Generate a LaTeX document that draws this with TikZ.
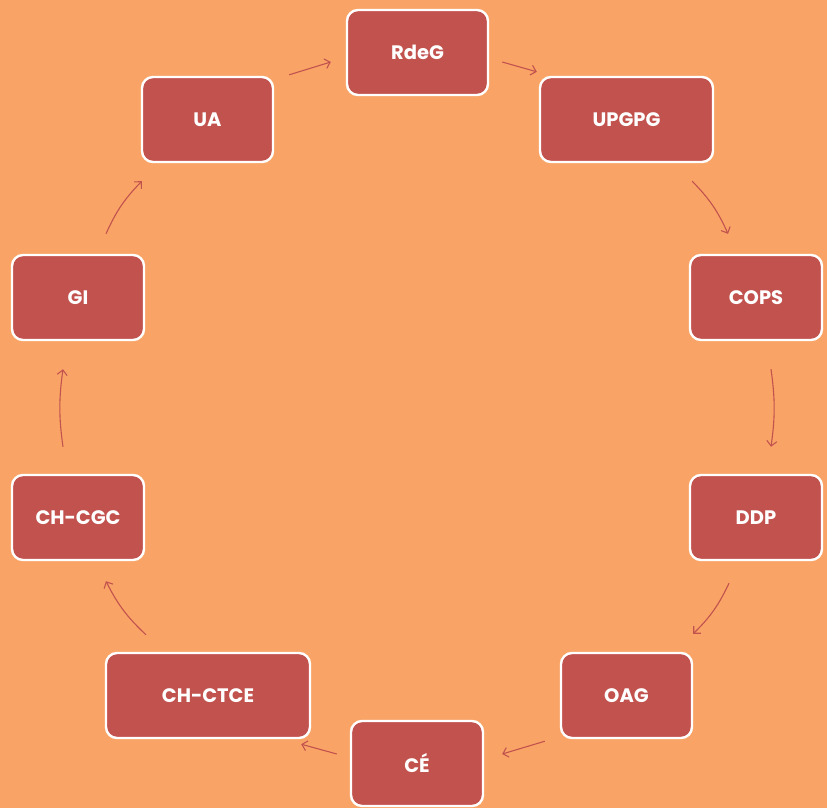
\documentclass[tikz,border=0pt]{standalone}
\usepackage{fontspec}
\setmainfont{Poppins}
\usetikzlibrary{arrows.meta}
\definecolor{bg}{HTML}{F9A466}
\definecolor{boxred}{HTML}{C2524E}
\definecolor{arr}{HTML}{C2524E}
\tikzset{
  box/.style={draw=white, line width=2.4pt, fill=boxred, rounded corners=11pt,
    minimum height=85pt, text=white, font=\fontsize{19.5}{22}\selectfont\bfseries, inner sep=0pt},
  flow/.style={draw=arr, line width=1.1pt, -{Straight Barb[length=5pt,width=10pt,line width=1.1pt]}}
}
\begin{document}
\begin{tikzpicture}[x=1pt,y=-1pt]
\fill[bg] (0,0) rectangle (827,808);
\useasboundingbox (0,0) rectangle (827,808);
\node[box, minimum width=141pt] (rdeg) at (417.5,52.5) {RdeG};
\node[box, minimum width=173pt] (upgpg) at (626.5,119.5) {UPGPG};
\node[box, minimum width=131pt] (ua) at (207.5,119.5) {UA};
\node[box, minimum width=132pt] (gi) at (78,297.5) {GI};
\node[box, minimum width=132pt] (cops) at (756,297.5) {COPS};
\node[box, minimum width=132pt] (chcgc) at (78,517.5) {CH-CGC};
\node[box, minimum width=132pt] (ddp) at (756,517.5) {DDP};
\node[box, minimum width=204pt] (chctce) at (208,695.5) {CH-CTCE};
\node[box, minimum width=131pt] (oag) at (626.5,695.5) {OAG};
\node[box, minimum width=132pt] (ce) at (417,763.5) {CÉ};

\draw[flow] ([shift={(15,-1)}]ua.north east) to ([shift={(-15,9.5)}]rdeg.west);
\draw[flow] ([shift={(13,9.5)}]rdeg.east) to ([shift={(-2,-4)}]upgpg.north west);
\draw[flow] ([shift={(-22,18)}]upgpg.south east) to[bend left=10] ([shift={(-28,-20)}]cops.north);
\draw[flow] ([shift={(15,28)}]cops.south) to[bend left=8] ([shift={(15,-27)}]ddp.north);
\draw[flow] ([shift={(-27,22)}]ddp.south) to[bend left=10] ([shift={(0,-18)}]oag.north east);
\draw[flow] ([shift={(-15,2)}]oag.south west) to ([shift={(18,-9.5)}]ce.east);
\draw[flow] ([shift={(-13,-9.5)}]ce.west) to ([shift={(-10,5)}]chctce.south east);
\draw[flow] ([shift={(-62,-17)}]chctce.north) to[bend left=10] ([shift={(28,20)}]chcgc.south);
\draw[flow] ([shift={(-15,-27)}]chcgc.north) to[bend left=8] ([shift={(-15,28)}]gi.south);
\draw[flow] ([shift={(28,-20)}]gi.north) to[bend left=10] ([shift={(1,18)}]ua.south west);
\end{tikzpicture}
\end{document}
